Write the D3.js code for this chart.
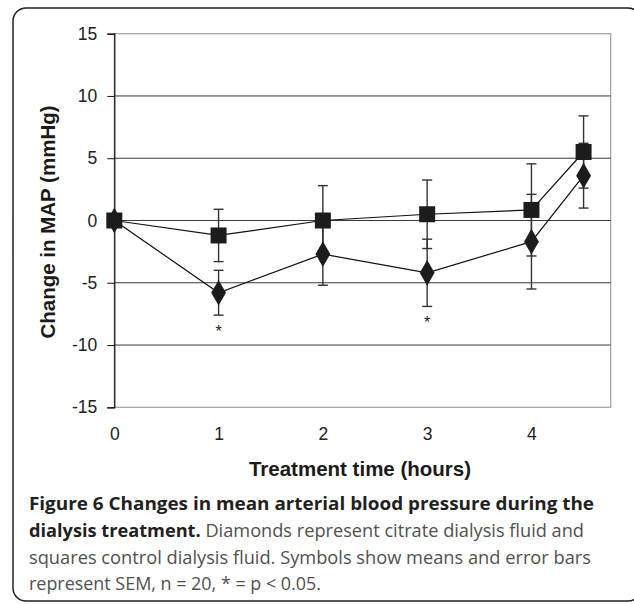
<!DOCTYPE html>
<html>
<head>
<meta charset="utf-8">
<script src="https://cdn.jsdelivr.net/npm/d3@7"></script>
<style>
  body { margin: 0; background: #fff; }
  svg { display: block; }
</style>
</head>
<body>
<script>
/* Change in MAP, citrate (diamonds) vs control (squares) */
var hours = [0, 1, 2, 3, 4, 4.5];
var citrateMean = [0, -5.8, -2.7, -4.2, -1.7, 3.6];
var citrateSem = [0, 1.8, 2.5, 2.7, 3.8, 2.6];
var controlMean = [0, -1.2, 0, 0.5, 0.85, 5.5];
var controlSem = [0, 2.1, 2.8, 2.75, 3.7, 2.9];
var sigHours = [1, 3];
var xTicks = [0, 1, 2, 3, 4];
var yTicks = [-15, -10, -5, 0, 5, 10, 15];

var width = 634,
    height = 604;

var svg = d3.select("body").append("svg")
    .attr("width", width)
    .attr("height", height);

// frame round the figure
svg.append("rect")
    .attr("x", 13).attr("y", 8)
    .attr("width", 628).attr("height", 593)
    .attr("rx", 13).attr("ry", 13)
    .attr("fill", "none")
    .attr("stroke", "#231f20")
    .attr("stroke-width", 1.5);

var plotLeft = 114.3, plotRight = 610.7, plotTop = 33.7, plotBottom = 407.3;

var x = d3.scaleLinear()
    .domain([0, 4.76])
    .range([plotLeft, plotRight]);

var y = d3.scaleLinear()
    .domain([-15, 15])
    .range([plotBottom, plotTop]);

// plain hyphen for negatives, like the original
var plainFormat = function(d) { return String(d); };

// plot area border (grey)
svg.append("rect")
    .attr("x", plotLeft).attr("y", plotTop)
    .attr("width", plotRight - plotLeft).attr("height", plotBottom - plotTop)
    .attr("fill", "none")
    .attr("stroke", "#a0a0a0")
    .attr("stroke-width", 1.2);

// grid lines
svg.append("g").selectAll("line")
    .data(yTicks.filter(function(d) { return d > -15 && d < 15; }))
    .enter().append("line")
    .attr("x1", plotLeft).attr("x2", plotRight)
    .attr("y1", function(d) { return y(d); })
    .attr("y2", function(d) { return y(d); })
    .attr("stroke", "#3a3a3a")
    .attr("stroke-width", 1);

// y axis
var yAxis = d3.axisLeft(y)
    .tickValues(yTicks)
    .tickFormat(plainFormat)
    .tickSize(7)
    .tickPadding(10);

var gy = svg.append("g")
    .attr("transform", "translate(" + plotLeft + ",0)")
    .call(yAxis);
gy.select(".domain").attr("stroke", "#111").attr("stroke-width", 1.2);
gy.selectAll(".tick line").attr("stroke", "#111");
gy.selectAll("text")
    .attr("font-family", "Liberation Sans, Arial, sans-serif")
    .attr("font-size", 17.5)
    .attr("fill", "#222");

// x axis: labels only
var xAxis = d3.axisBottom(x)
    .tickValues(xTicks)
    .tickFormat(plainFormat)
    .tickSize(0)
    .tickPadding(20);

var gx = svg.append("g")
    .attr("transform", "translate(0," + plotBottom + ")")
    .call(xAxis);
gx.select(".domain").remove();
gx.selectAll("text")
    .attr("font-family", "Liberation Sans, Arial, sans-serif")
    .attr("font-size", 17.5)
    .attr("fill", "#222");

// axis titles
svg.append("text")
    .attr("x", 360).attr("y", 469)
    .attr("dy", "0.35em")
    .attr("text-anchor", "middle")
    .attr("font-family", "Liberation Sans, Arial, sans-serif")
    .attr("font-weight", "bold")
    .attr("font-size", 20.5)
    .attr("fill", "#1a1a1a")
    .text("Treatment time (hours)");

svg.append("text")
    .attr("transform", "translate(48,222) rotate(-90)")
    .attr("dy", "0.35em")
    .attr("text-anchor", "middle")
    .attr("font-family", "Liberation Sans, Arial, sans-serif")
    .attr("font-weight", "bold")
    .attr("font-size", 20.5)
    .attr("fill", "#1a1a1a")
    .text("Change in MAP (mmHg)");

var series = [
    { mean: controlMean, sem: controlSem, shape: d3.symbolSquare, size: 256 },
    { mean: citrateMean, sem: citrateSem, shape: d3.symbolDiamond, size: 190 }
];

// error bars
series.forEach(function(s) {
    var g = svg.append("g").attr("stroke", "#333").attr("stroke-width", 1.4);
    hours.forEach(function(h, i) {
        if (!s.sem[i]) return;
        var cx = x(h), hi = y(s.mean[i] + s.sem[i]), lo = y(s.mean[i] - s.sem[i]);
        g.append("line").attr("x1", cx).attr("x2", cx).attr("y1", hi).attr("y2", lo);
        g.append("line").attr("x1", cx - 5).attr("x2", cx + 5).attr("y1", hi).attr("y2", hi);
        g.append("line").attr("x1", cx - 5).attr("x2", cx + 5).attr("y1", lo).attr("y2", lo);
    });
});

// lines
var line = d3.line()
    .x(function(d, i) { return x(hours[i]); })
    .y(function(d) { return y(d); });

series.forEach(function(s) {
    svg.append("path")
        .datum(s.mean)
        .attr("d", line)
        .attr("fill", "none")
        .attr("stroke", "#111")
        .attr("stroke-width", 1.2);
});

// markers
series.forEach(function(s) {
    svg.append("g").selectAll("path")
        .data(s.mean)
        .enter().append("path")
        .attr("transform", function(d, i) { return "translate(" + x(hours[i]) + "," + y(d) + ")"; })
        .attr("d", d3.symbol().type(s.shape).size(s.size))
        .attr("fill", "#1c1c1c");
});

// significance stars below the citrate error bars
svg.append("g").selectAll("text")
    .data(sigHours)
    .enter().append("text")
    .attr("x", function(h) { return x(h); })
    .attr("y", function(h) {
        var i = hours.indexOf(h);
        return y(citrateMean[i] - citrateSem[i]) + 22;
    })
    .attr("text-anchor", "middle")
    .attr("font-family", "Liberation Sans, Arial, sans-serif")
    .attr("font-size", 16)
    .attr("fill", "#222")
    .text("*");

// caption
var capFont = "Open Sans, Noto Sans, sans-serif";
var cap = svg.append("g")
    .attr("font-family", capFont)
    .attr("font-size", 17.5);

cap.append("text").attr("x", 29).attr("y", 504).attr("dy", "0.35em")
    .attr("textLength", 565).attr("lengthAdjust", "spacingAndGlyphs")
    .attr("font-weight", "bold").attr("fill", "#231f20")
    .text("Figure 6 Changes in mean arterial blood pressure during the");

var t2 = cap.append("text").attr("x", 29).attr("y", 531).attr("dy", "0.35em")
    .attr("textLength", 555).attr("lengthAdjust", "spacingAndGlyphs");
t2.append("tspan").attr("font-weight", "bold").attr("fill", "#231f20").text("dialysis treatment.");
t2.append("tspan").attr("fill", "#505050").text(" Diamonds represent citrate dialysis fluid and");

cap.append("text").attr("x", 29).attr("y", 558).attr("dy", "0.35em")
    .attr("textLength", 562).attr("lengthAdjust", "spacingAndGlyphs")
    .attr("fill", "#505050")
    .text("squares control dialysis fluid. Symbols show means and error bars");

cap.append("text").attr("x", 29).attr("y", 584).attr("dy", "0.35em")
    .attr("textLength", 292).attr("lengthAdjust", "spacingAndGlyphs")
    .attr("fill", "#505050")
    .text("represent SEM, n = 20, * = p < 0.05.");
</script>
</body>
</html>
